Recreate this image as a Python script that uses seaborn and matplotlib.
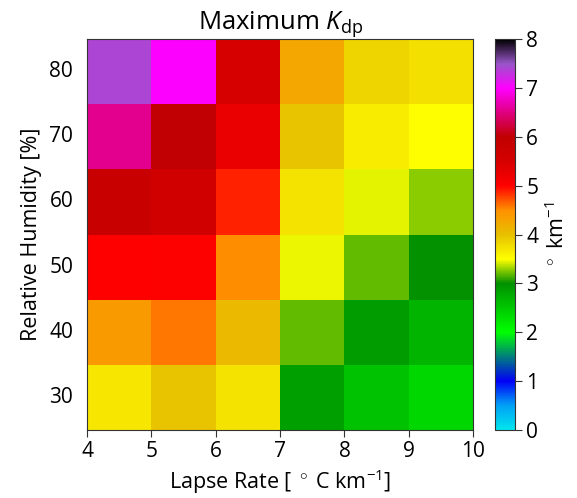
import numpy as np
import pandas as pd
import matplotlib
matplotlib.use("Agg")
import matplotlib.pyplot as plt
import seaborn as sns
from matplotlib.colors import LinearSegmentedColormap

# ---- data ----
lapse_edges = [4, 5, 6, 7, 8, 9, 10]
lapse_centers = [4.5, 5.5, 6.5, 7.5, 8.5, 9.5]
rh_labels = [80, 70, 60, 50, 40, 30]
rh80 = [7.4, 7.0, 5.5, 4.25, 3.83, 3.75]
rh70 = [6.55, 6.0, 5.25, 3.97, 3.65, 3.5]
rh60 = [5.8, 5.6, 4.88, 3.72, 3.44, 3.27]
rh50 = [5.0, 5.02, 4.5, 3.46, 3.2, 3.0]
rh40 = [4.38, 4.59, 4.07, 3.2, 2.9, 2.68]
rh30 = [3.7, 3.97, 3.72, 2.86, 2.55, 2.36]
cbar_ticks = [0, 1, 2, 3, 4, 5, 6, 7, 8]

# colormap anchors
cm_pos = [0, 0.5, 1.0, 2.0, 2.5, 3.0, 3.5, 4.0, 4.5, 5.0, 5.5, 6.0, 7.0, 7.5, 8.0]
cm_col = ["#00E5EC", "#01A0F6", "#0000F6", "#00FF00", "#00C800", "#009000",
          "#FFFF00", "#E7C000", "#FF9000", "#FF0000", "#D60000", "#C00000",
          "#FF00FF", "#9955C9", "#000000"]

cmap = LinearSegmentedColormap.from_list(
    "kdp", [(p / 8.0, c) for p, c in zip(cm_pos, cm_col)], N=512)

df = pd.DataFrame([rh80, rh70, rh60, rh50, rh40, rh30],
                  index=rh_labels, columns=lapse_centers)

plt.rcParams["font.family"] = ["Open Sans", "DejaVu Sans"]
plt.rcParams["mathtext.fontset"] = "custom"
plt.rcParams["mathtext.rm"] = "Open Sans"
plt.rcParams["mathtext.it"] = "Open Sans:italic"
plt.rcParams["mathtext.bf"] = "Open Sans:bold"

fig = plt.figure(figsize=(5.77, 4.98), dpi=100)
ax = fig.add_axes([0.151, 0.1365, 0.669, 0.785])
cax = fig.add_axes([0.858, 0.1365, 0.0347, 0.785])

sns.heatmap(df, ax=ax, cbar_ax=cax, cmap=cmap, vmin=0, vmax=8)

ax.set_xticks(np.arange(len(lapse_edges)))
ax.set_xticklabels(lapse_edges, rotation=0, fontsize=15)
ax.set_yticks(np.arange(len(rh_labels)) + 0.5)
ax.set_yticklabels(rh_labels, rotation=0, fontsize=15)
ax.tick_params(axis="x", length=5, width=0.8, color="#333333", pad=3, bottom=True)
ax.tick_params(axis="y", length=0, pad=10)
for s in ax.spines.values():
    s.set_visible(True)
    s.set_linewidth(0.8)
    s.set_color("#333333")

ax.set_xlabel(r"Lapse Rate [ $^\circ$ C km$^{-1}$]", fontsize=15.5, labelpad=4)
ax.set_ylabel("Relative Humidity [%]", fontsize=15.5, labelpad=5)
ax.set_title(r"Maximum $K_{\rm dp}$", fontsize=18.5, pad=4)

cb = ax.collections[0].colorbar
cb.set_ticks(cbar_ticks)
cb.ax.tick_params(labelsize=15, length=5, width=0.8, color="#333333", pad=3)
cb.outline.set_visible(True)
cb.outline.set_linewidth(0.8)
cb.outline.set_edgecolor("#333333")
cb.set_label(r"$^\circ$ km$^{-1}$", fontsize=15.5, labelpad=5)

fig.savefig("out.png", dpi=100)
